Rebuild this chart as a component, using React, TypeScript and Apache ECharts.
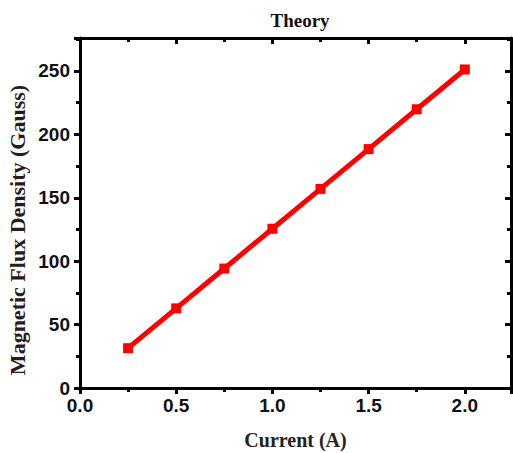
import React, { useEffect, useRef } from "react";
import * as echarts from "echarts";

const currents = [0.25, 0.5, 0.75, 1.0, 1.25, 1.5, 1.75, 2.0];
const fluxDensity = [31.4, 62.8, 94.2, 125.6, 157.0, 188.4, 219.8, 251.2];
const chartTitle = "Theory";
const xTitle = "Current (A)";
const yTitle = "Magnetic Flux Density (Gauss)";

export default function App() {
  const ref = useRef<HTMLDivElement>(null);
  useEffect(() => {
    if (!ref.current) return;
    const chart = echarts.init(ref.current, null, { renderer: "svg" });
    const serif = "'Liberation Serif', 'Times New Roman', serif";
    const sans = "'Liberation Sans', Arial, sans-serif";
    const axisLine = { show: true, onZero: false, lineStyle: { color: "#000", width: 3 } };
    const xCommon = {
      type: "value" as const,
      min: 0,
      max: 2.24,
      interval: 0.5,
      splitLine: { show: false },
    };
    const yCommon = {
      type: "value" as const,
      min: 0,
      max: 276,
      interval: 50,
      splitLine: { show: false },
    };
    chart.setOption({
      animation: false,
      backgroundColor: "#fff",
      title: {
        text: chartTitle,
        left: 295,
        top: 6,
        textAlign: "center",
        textStyle: { fontFamily: serif, fontWeight: "bold", fontSize: 19, color: "#111" },
      },
      graphic: [
        {
          type: "text",
          x: 17,
          y: 230,
          rotation: Math.PI / 2,
          style: {
            text: yTitle,
            fontFamily: serif,
            fontWeight: "bold",
            fontSize: 22,
            fill: "#2a1a1a",
            align: "center",
            verticalAlign: "middle",
          },
        },
      ],
      grid: { left: 80, right: 2, top: 38, bottom: 65, containLabel: false, outerBoundsMode: "none" },
      xAxis: [
        {
          ...xCommon,
          position: "bottom",
          axisLine,
          axisTick: { show: true, inside: false, length: 6, lineStyle: { width: 3, color: "#000" } },
          minorTick: { show: true, splitNumber: 2, length: 4, lineStyle: { width: 3, color: "#000" } },
          axisLabel: {
            formatter: (v: number) => v.toFixed(1),
            fontFamily: sans,
            fontWeight: "bold",
            fontSize: 19,
            color: "#111",
            margin: 8,
            showMaxLabel: false,
          },
          name: xTitle,
          nameLocation: "middle",
          nameGap: 42,
          nameTextStyle: { fontFamily: serif, fontWeight: "bold", fontSize: 20, color: "#222" },
        },
        {
          ...xCommon,
          position: "top",
          axisLine,
          axisTick: { show: true, inside: true, length: 6, lineStyle: { width: 3, color: "#000" } },
          minorTick: { show: true, splitNumber: 2, length: 4, lineStyle: { width: 3, color: "#000" } },
          axisLabel: { show: false },
        },
      ],
      yAxis: [
        {
          ...yCommon,
          position: "left",
          axisLine,
          axisTick: { show: true, inside: false, length: 6, lineStyle: { width: 3, color: "#000" } },
          minorTick: { show: true, splitNumber: 2, length: 4, lineStyle: { width: 3, color: "#000" } },
          axisLabel: {
            fontFamily: sans,
            fontWeight: "bold",
            fontSize: 19,
            color: "#111",
            margin: 10,
            showMaxLabel: false,
          },
        },
        {
          ...yCommon,
          position: "right",
          axisLine,
          axisTick: { show: true, inside: true, length: 6, lineStyle: { width: 3, color: "#000" } },
          minorTick: { show: true, splitNumber: 2, length: 4, lineStyle: { width: 3, color: "#000" } },
          axisLabel: { show: false },
        },
      ],
      series: [
        {
          type: "line",
          xAxisIndex: 0,
          yAxisIndex: 0,
          data: currents.map((c, i) => [c, fluxDensity[i]]),
          symbol: "rect",
          symbolSize: 10,
          lineStyle: { color: "#ff0000", width: 5 },
          itemStyle: { color: "#ff0000" },
        },
      ],
    });
    return () => chart.dispose();
  }, []);
  return (
    <div
      ref={ref}
      style={{ position: "fixed", left: 0, top: 0, width: 513, height: 453, background: "#fff" }}
    />
  );
}
